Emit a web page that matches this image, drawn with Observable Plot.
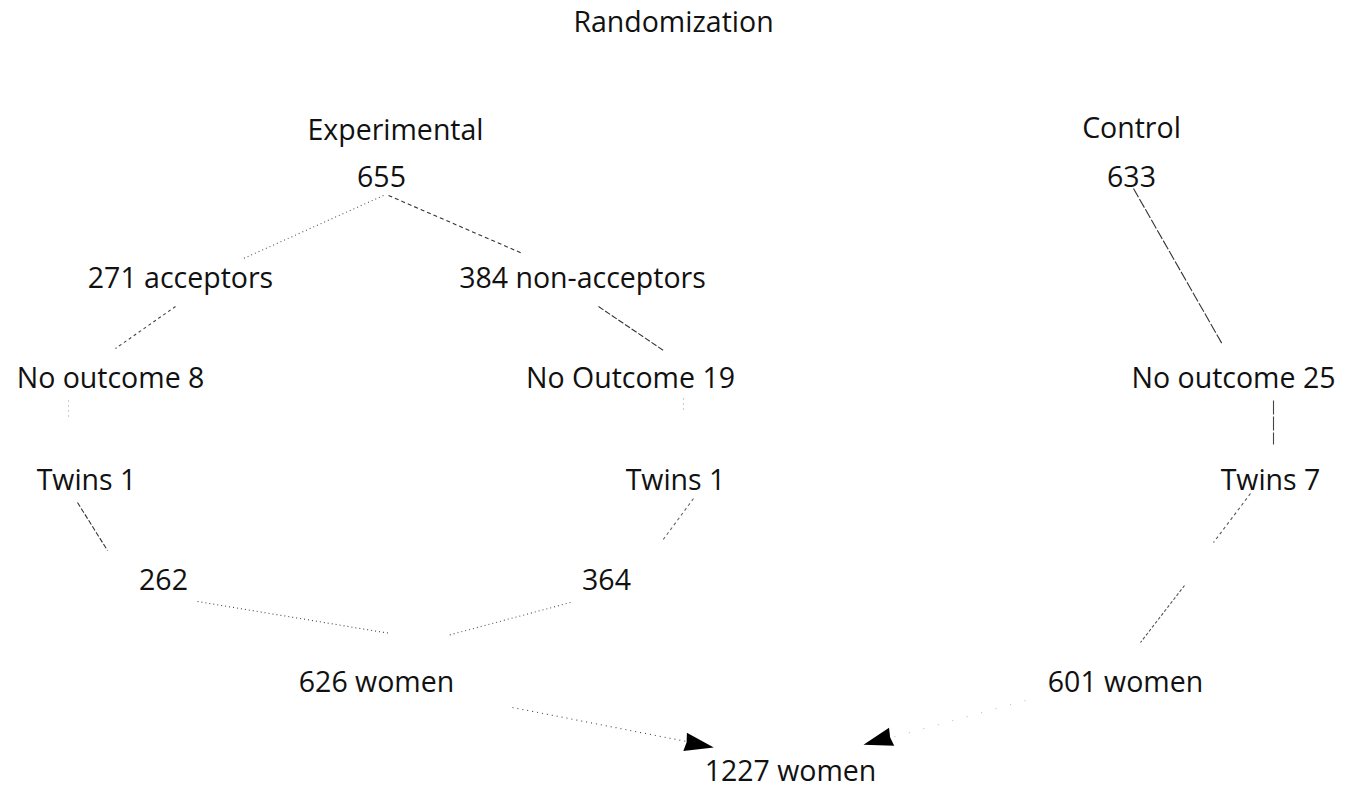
<!DOCTYPE html>
<html>
<head>
<meta charset="utf-8">
<script src="https://cdn.jsdelivr.net/npm/d3@7"></script>
<script src="https://cdn.jsdelivr.net/npm/@observablehq/plot@0.6"></script>
<style>
  html, body { margin: 0; padding: 0; background: #fff; }
  #chart { width: 1350px; height: 792px; }
</style>
</head>
<body>
<div id="chart"></div>
<script>
// Node labels and their layout position (x in layout units, row = flow level)
const labels = ["Randomization", "Experimental", "655", "271 acceptors", "384 non-acceptors",
  "No outcome 8", "No Outcome 19", "Twins 1", "Twins 1", "262", "364", "626 women",
  "Control", "633", "No outcome 25", "Twins 7", "601 women", "1227 women"];
const nodeX =   [673, 395, 381, 180, 582, 110, 630, 86, 675, 163, 606, 376, 1131, 1131, 1233, 1270, 1125, 790];
const nodeRow = [-0.56, 0.52, 0.99, 2.0, 2.0, 3.0, 3.0, 4.02, 4.02, 5.02, 5.02, 6.04, 0.50, 0.99, 3.0, 4.02, 6.04, 6.93];

// Connectors between nodes (layout units)
const linkX1 =   [383, 388, 175, 598, 68, 683, 1133, 1273, 77, 693, 1250, 1184, 197, 570, 512, 1025];
const linkR1 =   [1.17, 1.17, 2.28, 2.28, 3.22, 3.20, 1.10, 3.22, 4.24, 4.20, 4.15, 5.07, 5.23, 5.24, 6.29, 6.22];
const linkX2 =   [243, 522, 115, 663, 68, 683, 1222, 1273, 107, 662, 1213, 1140, 390, 447, 686, 884];
const linkR2 =   [1.80, 1.75, 2.70, 2.72, 3.40, 3.32, 2.66, 3.66, 4.72, 4.62, 4.64, 5.64, 5.55, 5.57, 6.63, 6.61];
const linkDash = ["1,3", "4,3", "3,3", "6,2", "1,4", "1,4", "10,2", "14,2", "5,2", "3,3", "3,3", "3,2", "1,3", "1,3", "1,4", "1,14"];
const linkGray = ["#555", "#333", "#444", "#333", "#999", "#999", "#333", "#444", "#333", "#666", "#555", "#555", "#444", "#555", "#444", "#bbb"];

// Arrowheads into the total
const headX =   [698, 878];
const headRow = [6.66, 6.62];
const headRot = [11, 164];

const nodes = labels.map((label, i) => ({label, x: nodeX[i], row: nodeRow[i]}));
const links = linkX1.map((x1, i) => ({x1, r1: linkR1[i], x2: linkX2[i], r2: linkR2[i], dash: linkDash[i], gray: linkGray[i]}));
const heads = headX.map((x, i) => ({x, row: headRow[i], rot: headRot[i]}));

// filled arrowhead symbol, pointing to +x
const arrowHead = {
  draw(context, size) {
    const s = Math.sqrt(size);
    context.moveTo(s * 0.8, 0);
    context.lineTo(-s * 0.7, -s * 0.48);
    context.lineTo(-s * 0.62, 0);
    context.lineTo(-s * 0.7, s * 0.48);
    context.closePath();
  }
};

const marks = [];
for (const l of links) {
  marks.push(Plot.link([l], {x1: "x1", y1: "r1", x2: "x2", y2: "r2",
    stroke: l.gray, strokeWidth: 1.1, strokeDasharray: l.dash}));
}
marks.push(Plot.dot(heads, {x: "x", y: "row", symbol: arrowHead, r: 11, rotate: "rot",
  fill: "#000", stroke: "none"}));
marks.push(Plot.text(nodes, {x: "x", y: "row", text: "label", fill: "#111",
  fontSize: 28.5, fontFamily: "Open Sans", textAnchor: "middle", lineAnchor: "middle"}));

const chart = Plot.plot({
  width: 1350,
  height: 792,
  margin: 0,
  x: {domain: [0, 1350], range: [0, 1350], axis: null},
  y: {domain: [-0.78, 7.14], range: [0, 792], axis: null},
  style: {background: "#fff", fontFamily: "Open Sans"},
  marks
});
document.getElementById("chart").appendChild(chart);
</script>
</body>
</html>
